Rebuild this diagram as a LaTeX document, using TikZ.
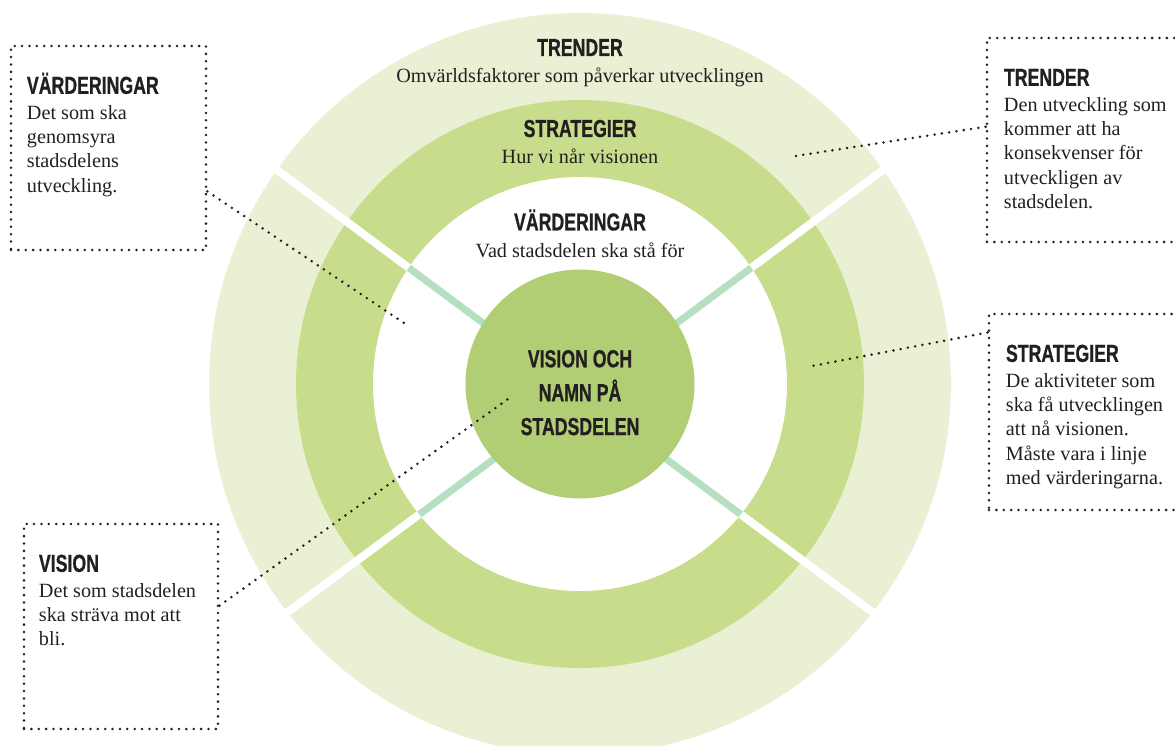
\documentclass[tikz,border=0pt]{standalone}
\usepackage{fontspec}
\setmainfont{Liberation Serif}
\newfontfamily\headfont[FakeStretch=0.72, FakeBold=0.8]{Liberation Sans}
\usetikzlibrary{fit,calc}

\definecolor{trendgreen}{HTML}{E9F0D4}
\definecolor{strategygreen}{HTML}{C8DD8B}
\definecolor{visiongreen}{HTML}{B1CE74}
\definecolor{spokegreen}{HTML}{B4E0C1}
\definecolor{inkdark}{HTML}{231F20}

\tikzset{
  heading/.style={font=\headfont\bfseries\fontsize{14}{19.3}\selectfont, text=inkdark, inner sep=0pt},
  ringtext/.style={font=\fontsize{11.5}{13.8}\selectfont, text=inkdark, inner sep=0pt},
  infobox/.style={draw=inkdark, line width=1.6pt, dash pattern=on 0pt off 4.2pt, line cap=round, inner sep=0pt},
  boxtext/.style={anchor=north west, align=left, inner sep=0pt, text=inkdark, font=\fontsize{11.5}{13.8}\selectfont},
  pointer/.style={draw=inkdark, line width=1.6pt, dash pattern=on 0pt off 4.2pt, line cap=round},
}
\newcommand{\boxhead}[1]{\rule{0pt}{14pt}{\headfont\bfseries\fontsize{14}{17}\selectfont #1}}

\begin{document}
\begin{tikzpicture}[x=0.02cm, y=-0.02cm]

    % Page size in pixels of the reference
    \useasboundingbox (0,0) rectangle (1175,746);

    % Radii of the rings
    \def\Rout{371}
    \def\Rmid{284}
    \def\Rval{207}
    \def\Rvis{114.5}

    % Centre of the rings and crossing point of the gaps
    \coordinate (C) at (580,384);
    \coordinate (X) at (580,395);

    % Draw the rings from the outside in
    \fill[trendgreen] (C) circle (\Rout);
    \fill[strategygreen] (C) circle (\Rmid);
    \fill[white] (C) circle (\Rval);

    % White gaps through the two outer rings
    \foreach \a in {36.6,143.4,216.6,323.4}
        \draw[white, line width=4.5pt] (X) -- ++(\a:420);

    % Light spokes inside the white ring only
    \begin{scope}
        \clip (C) circle (\Rval);
        \foreach \a in {36.6,143.4,216.6,323.4}
            \draw[spokegreen, line width=4pt] (X) -- ++(\a:420);
    \end{scope}

    % The vision circle in the middle
    \fill[visiongreen] (C) circle (\Rvis);
    \node[heading, align=center] (visiontext) at (580,392.7) {VISION OCH\\NAMN PÅ\\STADSDELEN};

    % Labels in the rings
    \node[heading, anchor=base] (trendhead) at (580,56) {TRENDER};
    \node[ringtext, anchor=base] (trendsub) at (580,82.5) {Omvärldsfaktorer som påverkar utvecklingen};
    \node[heading, anchor=base] (strathead) at (580,137) {STRATEGIER};
    \node[ringtext, anchor=base] (stratsub) at (580,164) {Hur vi når visionen};
    \node[heading, anchor=base] (valhead) at (580,230.5) {VÄRDERINGAR};
    \node[ringtext, anchor=base] (valsub) at (580,257) {Vad stadsdelen ska stå för};

    % Dotted boxes around the explanations
    \node[infobox, fit={(11,46) (206,250)}] (valbox) {};
    \node[infobox, fit={(987,38) (1200,242)}] (trendbox) {};
    \node[infobox, fit={(989,314) (1200,510)}] (stratbox) {};
    \node[infobox, fit={(24,524) (218,729)}] (visbox) {};

    % Texts inside the boxes
    \node[boxtext] (valtext) at ([shift={(17,24.3)}]valbox.north west)
        {\boxhead{VÄRDERINGAR}\\[0.7pt] Det som ska\\ genomsyra\\ stadsdelens\\ utveckling.};
    \node[boxtext] (trendtext) at ([shift={(18,24.3)}]trendbox.north west)
        {\boxhead{TRENDER}\\[0.7pt] Den utveckling som\\ kommer att ha\\ konsekvenser för\\ utveckligen av\\ stadsdelen.};
    \node[boxtext] (strattext) at ([shift={(18,24.3)}]stratbox.north west)
        {\boxhead{STRATEGIER}\\[0.7pt] De aktiviteter som\\ ska få utvecklingen\\ att nå visionen.\\ Måste vara i linje\\ med värderingarna.};
    \node[boxtext] (vistext) at ([shift={(16,24.3)}]visbox.north west)
        {\boxhead{VISION}\\[0.7pt] Det som stadsdelen\\ ska sträva mot att\\ bli.};

    % Free ends of the dotted pointers
    \coordinate (valend) at (407,325);
    \coordinate (trendend) at (789,157);
    \coordinate (stratend) at (812,366);
    \coordinate (visend) at (508,399);

    % Dotted pointers from the boxes into the rings
    \draw[pointer] ($(valbox.north east)!0.71!(valbox.south east)$) -- (valend);
    \draw[pointer] ($(trendbox.north west)!0.436!(trendbox.south west)$) -- (trendend);
    \draw[pointer] ($(stratbox.north west)!0.10!(stratbox.south west)$) -- (stratend);
    \draw[pointer] ($(visbox.north east)!0.40!(visbox.south east)$) -- (visend);

\end{tikzpicture}
\end{document}
